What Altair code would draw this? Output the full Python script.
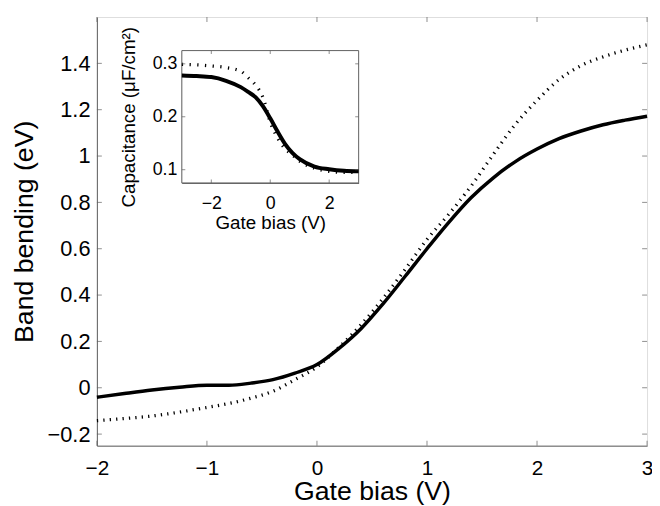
import altair as alt
import pandas as pd

# ---- data ----
gate_bias = [-2.0, -1.75, -1.5, -1.25, -1.0, -0.8, -0.6, -0.4, -0.2, 0.0,
             0.2, 0.4, 0.6, 0.8, 1.0, 1.2, 1.4, 1.6, 1.8, 2.0,
             2.2, 2.4, 2.6, 2.8, 3.0]
band_solid = [-0.041, -0.025, -0.010, 0.002, 0.011, 0.011, 0.020, 0.035, 0.063, 0.100,
              0.170, 0.255, 0.362, 0.480, 0.600, 0.715, 0.820, 0.905, 0.975, 1.030,
              1.075, 1.108, 1.135, 1.155, 1.172]
band_dotted = [-0.142, -0.133, -0.122, -0.105, -0.085, -0.068, -0.045, -0.015, 0.035, 0.090,
               0.175, 0.272, 0.385, 0.510, 0.640, 0.750, 0.870, 1.005, 1.135, 1.240,
               1.330, 1.390, 1.428, 1.457, 1.480]

inset_bias = [-3.0, -2.5, -2.0, -1.5, -1.0, -0.75, -0.5, -0.25, 0.0, 0.25, 0.5, 0.75,
              1.0, 1.5, 2.0, 2.5, 3.0]
cap_solid = [0.278, 0.277, 0.275, 0.268, 0.256, 0.247, 0.237, 0.220, 0.197, 0.172,
             0.149, 0.132, 0.120, 0.106, 0.101, 0.098, 0.097]
cap_dotted = [0.299, 0.298, 0.296, 0.293, 0.286, 0.274, 0.260, 0.237, 0.190, 0.160,
              0.140, 0.128, 0.116, 0.103, 0.097, 0.095, 0.095]

main_xticks = [-2, -1, 0, 1, 2, 3]
main_yticks = [-0.2, 0, 0.2, 0.4, 0.6, 0.8, 1, 1.2, 1.4]
inset_xticks = [-2, 0, 2]
inset_yticks = [0.1, 0.2, 0.3]

main_xdomain = [-2, 3]
main_ydomain = [-0.25, 1.6]
inset_xdomain = [-3, 3]
inset_ydomain = [0.075, 0.325]

# ---- layout ----
W, H = 557, 434
INSET_XRANGE = [86, 265]
INSET_YRANGE = [168, 34]
FONT = "Liberation Sans"
FRAME = "#606060"


def mx():
    return alt.Scale(domain=main_xdomain, range=[0, W], nice=False, zero=False)


def my():
    return alt.Scale(domain=main_ydomain, range=[H, 0], nice=False, zero=False)


def ix():
    return alt.Scale(domain=inset_xdomain, range=INSET_XRANGE, nice=False, zero=False)


def iy():
    return alt.Scale(domain=inset_ydomain, range=INSET_YRANGE, nice=False, zero=False)


main_solid_df = pd.DataFrame({"x": gate_bias, "y": band_solid})
main_dot_df = pd.DataFrame({"x": gate_bias, "y": band_dotted})
inset_solid_df = pd.DataFrame({"x": inset_bias, "y": cap_solid})
inset_dot_df = pd.DataFrame({"x": inset_bias, "y": cap_dotted})

common = dict(labelFont=FONT, titleFont=FONT, labelColor="black", titleColor="black",
              titleFontWeight="normal", labelFontWeight="normal",
              domainColor=FRAME, domainWidth=1, grid=False, tickSize=0,
              format="~g", titleBaseline="alphabetic")

main_x_axis = alt.Axis(values=main_xticks, title="Gate bias (V)",
                       orient="bottom", labelPadding=12, labelFlush=False,
                       labelFontSize=21, titleFontSize=27, titleY=54, **common)
main_y_axis = alt.Axis(values=main_yticks, title="Band bending (eV)",
                       orient="left", labelPadding=7,
                       labelFontSize=22, titleFontSize=27, titleX=-65, **common)

layers = []

layers.append(alt.Chart(main_solid_df).mark_line(
    color="black", strokeWidth=3.5, interpolate="monotone"
).encode(
    x=alt.X("x:Q", scale=mx(), axis=main_x_axis),
    y=alt.Y("y:Q", scale=my(), axis=main_y_axis),
))
layers.append(alt.Chart(main_dot_df).mark_line(
    color="black", strokeWidth=3.3, strokeDash=[1.3, 5.2], strokeCap="butt",
    interpolate="monotone"
).encode(
    x=alt.X("x:Q", scale=mx(), axis=None),
    y=alt.Y("y:Q", scale=my(), axis=None),
))

mxt = pd.DataFrame({"x": main_xticks})
myt = pd.DataFrame({"y": main_yticks})
for ypos in (H - 2.5, 2.5):
    layers.append(alt.Chart(mxt).mark_tick(orient="vertical", color=FRAME, thickness=1, size=5).encode(
        x=alt.X("x:Q", scale=mx(), axis=None), y=alt.value(ypos)))
for xpos in (2.5, W - 2.5):
    layers.append(alt.Chart(myt).mark_tick(orient="horizontal", color=FRAME, thickness=1, size=5).encode(
        y=alt.Y("y:Q", scale=my(), axis=None), x=alt.value(xpos)))

# ---- inset ----
box_df = pd.DataFrame({"x1": [inset_xdomain[0]], "x2": [inset_xdomain[1]],
                       "y1": [inset_ydomain[0]], "y2": [inset_ydomain[1]]})
inset_x_axis = alt.Axis(values=inset_xticks, title="Gate bias (V)",
                        orient="bottom", offset=-(H - INSET_YRANGE[0]),
                        labelPadding=12, labelFlush=False,
                        labelFontSize=18, titleFontSize=19, titleY=46, **common)
inset_y_axis = alt.Axis(values=inset_yticks, title="Capacitance (μF/cm²)",
                        orient="left", offset=-INSET_XRANGE[0],
                        labelPadding=5,
                        labelFontSize=18, titleFontSize=19, titleX=-48, **common)

layers.append(alt.Chart(box_df).mark_rect(fill="white", stroke=FRAME, strokeWidth=1).encode(
    x=alt.X("x1:Q", scale=ix(), axis=inset_x_axis),
    x2="x2:Q",
    y=alt.Y("y1:Q", scale=iy(), axis=inset_y_axis),
    y2="y2:Q",
))
layers.append(alt.Chart(inset_solid_df).mark_line(
    color="black", strokeWidth=4, interpolate="monotone"
).encode(
    x=alt.X("x:Q", scale=ix(), axis=None),
    y=alt.Y("y:Q", scale=iy(), axis=None),
))
layers.append(alt.Chart(inset_dot_df).mark_line(
    color="black", strokeWidth=3.3, strokeDash=[1.3, 6.5], strokeCap="butt",
    interpolate="monotone"
).encode(
    x=alt.X("x:Q", scale=ix(), axis=None),
    y=alt.Y("y:Q", scale=iy(), axis=None),
))
ixt = pd.DataFrame({"x": inset_xticks})
iyt = pd.DataFrame({"y": inset_yticks})
for ypos in (INSET_YRANGE[0] - 1.75, INSET_YRANGE[1] + 1.75):
    layers.append(alt.Chart(ixt).mark_tick(orient="vertical", color=FRAME, thickness=1, size=3.5).encode(
        x=alt.X("x:Q", scale=ix(), axis=None), y=alt.value(ypos)))
for xpos in (INSET_XRANGE[0] + 1.75, INSET_XRANGE[1] - 1.75):
    layers.append(alt.Chart(iyt).mark_tick(orient="horizontal", color=FRAME, thickness=1, size=3.5).encode(
        y=alt.Y("y:Q", scale=iy(), axis=None), x=alt.value(xpos)))

chart = alt.layer(*layers).resolve_scale(
    x="independent", y="independent"
).resolve_axis(
    x="independent", y="independent"
).properties(
    width=W, height=H,
    autosize=alt.AutoSizeParams(type="none"),
    padding={"left": 90, "top": 6, "right": 5, "bottom": 62},
).configure_view(
    stroke=FRAME, strokeWidth=1
).configure(background="white")

chart.save("out.html", embed_options={"renderer": "svg", "actions": False})
